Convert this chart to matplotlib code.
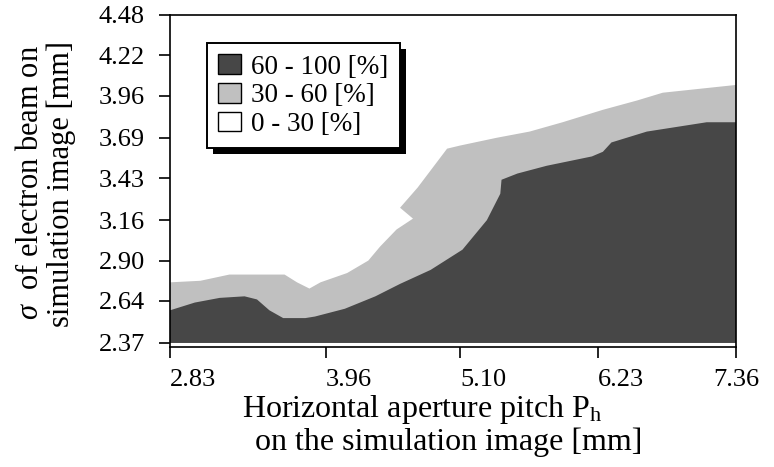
import numpy as np
import matplotlib
matplotlib.use("Agg")
import matplotlib.pyplot as plt
from matplotlib.patches import Patch, Rectangle
from matplotlib.transforms import IdentityTransform

# ---- data -------------------------------------------------------------
pitch_ticks = [2.83, 3.96, 5.10, 6.23, 7.36]
sigma_ticks = [2.37, 2.64, 2.90, 3.16, 3.43, 3.69, 3.96, 4.22, 4.48]

# upper edge of the 30-60 % region (pitch [mm], sigma [mm])
edge30_pitch = [2.83, 3.05, 3.26, 3.66, 3.75, 3.84, 3.92, 4.14, 4.32, 4.42,
                4.56, 4.70, 4.59, 4.74, 4.90, 4.99, 5.10, 5.40, 5.67, 5.94,
                6.27, 6.55, 6.76, 7.36]
edge30_sigma = [2.76, 2.77, 2.81, 2.81, 2.76, 2.72, 2.76, 2.82, 2.90, 2.99,
                3.10, 3.17, 3.24, 3.37, 3.53, 3.62, 3.64, 3.69, 3.73, 3.79,
                3.87, 3.93, 3.98, 4.03]

# upper edge of the 60-100 % region (pitch [mm], sigma [mm])
edge60_pitch = [2.83, 3.01, 3.19, 3.37, 3.46, 3.55, 3.65, 3.81, 3.88, 4.12,
                4.38, 4.59, 4.85, 5.12, 5.32, 5.43, 5.44, 5.57, 5.81, 6.18,
                6.27, 6.34, 6.63, 7.12, 7.36]
edge60_sigma = [2.58, 2.63, 2.66, 2.67, 2.65, 2.58, 2.53, 2.53, 2.54, 2.59,
                2.67, 2.75, 2.84, 2.97, 3.16, 3.33, 3.42, 3.46, 3.51, 3.57,
                3.60, 3.66, 3.73, 3.79, 3.79]

levels = ["60 - 100 [%]", "30 - 60 [%]", "0 - 30 [%]"]

# ---- style ------------------------------------------------------------
plt.rcParams["font.family"] = ["Liberation Serif", "DejaVu Serif"]
plt.rcParams["mathtext.fontset"] = "custom"
plt.rcParams["mathtext.rm"] = "Liberation Serif"
plt.rcParams["mathtext.it"] = "Liberation Serif:italic"

dark = "#474747"
light = "#c0c0c0"

# relative spacing of the pitch ticks along the axis
tick_spots = [0.0, 156.0, 290.0, 428.0, 566.0]


def fwd(x):
    return np.interp(x, pitch_ticks, tick_spots)


def inv(p):
    return np.interp(p, tick_spots, pitch_ticks)


W, H = 774, 467
fig = plt.figure(figsize=(W / 100, H / 100), dpi=100)
ax = fig.add_axes([170 / W, 1 - 347 / H, (736 - 170) / W, (347 - 15) / H])
ax.set_xscale("function", functions=(fwd, inv))

x_lo, x_hi = pitch_ticks[0], pitch_ticks[-1]
y_base = sigma_ticks[0]

ax.fill(edge30_pitch + [x_hi, x_lo], edge30_sigma + [y_base, y_base],
        facecolor=light, edgecolor="none", zorder=1)
ax.fill(edge60_pitch + [x_hi, x_lo], edge60_sigma + [y_base, y_base],
        facecolor=dark, edgecolor="none", zorder=2)

ax.set_xlim(x_lo, x_hi)
ax.set_ylim(y_base - 0.026, sigma_ticks[-1])

ax.set_xticks(pitch_ticks)
ax.set_xticklabels([f"{v:.2f}" for v in pitch_ticks])
ax.xaxis.set_minor_locator(matplotlib.ticker.NullLocator())
ax.set_yticks(sigma_ticks)
ax.set_yticklabels([f"{v:.2f}" for v in sigma_ticks])

ax.tick_params(axis="both", direction="out", length=8, width=1.2,
               labelsize=19, colors="black")
ax.tick_params(axis="x", pad=8)
ax.tick_params(axis="y", pad=10)
for lab in ax.get_xticklabels()[:-1]:
    lab.set_horizontalalignment("left")
for s in ax.spines.values():
    s.set_linewidth(1.2)

# axis titles
fig.text(422 / W, 1 - 410 / H, r"Horizontal aperture pitch P$_{\mathrm{h}}$",
         fontsize=23, ha="center", va="center")
fig.text(449 / W, 1 - 442 / H, "on the simulation image [mm]",
         fontsize=23, ha="center", va="center")
fig.text(31 / W, 1 - 183 / H, r"$\sigma$  of electron beam on",
         fontsize=22, ha="center", va="center", rotation=90)
fig.text(61 / W, 1 - 184 / H, "simulation image [mm]",
         fontsize=22, ha="center", va="center", rotation=90)

# legend
handles = [Patch(facecolor=dark, edgecolor="black", linewidth=1.0),
           Patch(facecolor=light, edgecolor="black", linewidth=1.0),
           Patch(facecolor="white", edgecolor="black", linewidth=1.0)]
leg = ax.legend(handles, levels, loc="upper left",
                bbox_to_anchor=((207 - 170) / (736 - 170), (347 - 43) / (347 - 15)),
                borderaxespad=0.0, fontsize=19.5, frameon=True, fancybox=False,
                edgecolor="black", framealpha=1.0, handlelength=0.85,
                handleheight=0.75, handletextpad=0.35, labelspacing=0.12,
                borderpad=0.42)
leg.get_frame().set_linewidth(1.4)
leg.set_zorder(10)

fig.canvas.draw()
bb = leg.get_frame().get_window_extent(fig.canvas.get_renderer())
shadow = Rectangle((bb.x0 + 6, bb.y0 - 6), bb.width, bb.height,
                   transform=IdentityTransform(), facecolor="black",
                   edgecolor="none", zorder=9)
ax.add_artist(shadow)
shadow.set_clip_on(False)

fig.savefig("out.png", dpi=100)
